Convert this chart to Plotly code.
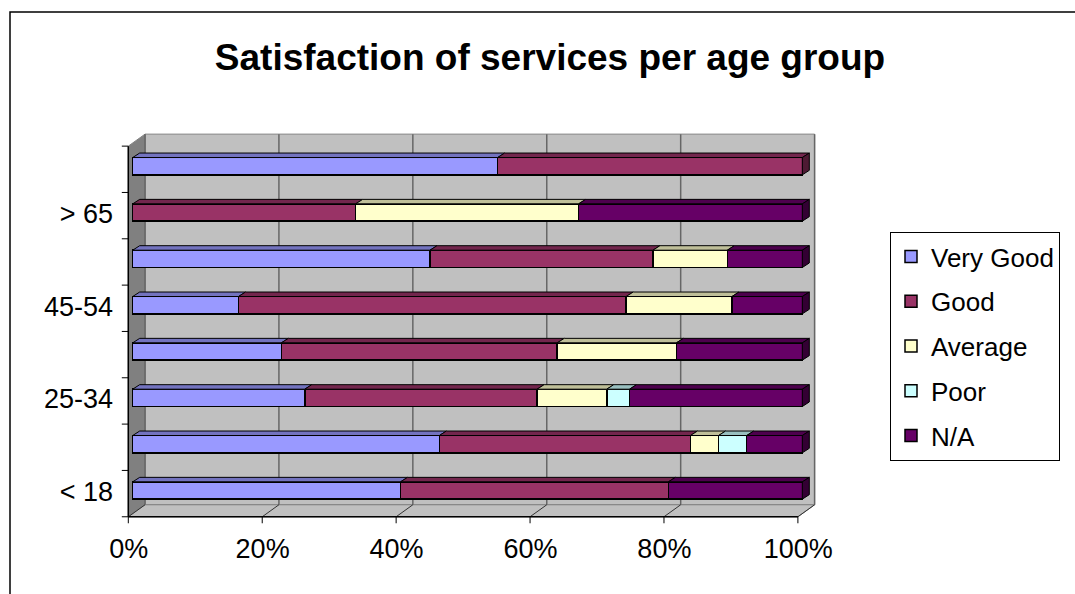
import plotly.graph_objects as go

# ---------------- data ----------------
age_groups = ["< 18", "18-24", "25-34", "35-44", "45-54", "55-64", "> 65", "Unknown"]
ratings = ["Very Good", "Good", "Average", "Poor", "N/A"]
very_good = [40.0, 45.8, 25.7, 22.2, 15.8, 44.4, 0.0, 54.5]
good      = [40.0, 37.5, 34.7, 41.2, 57.9, 33.3, 33.3, 45.5]
average   = [0.0, 4.2, 10.4, 17.8, 15.8, 11.1, 33.3, 0.0]
poor      = [0.0, 4.2, 3.4, 0.0, 0.0, 0.0, 0.0, 0.0]
n_a       = [20.0, 8.3, 25.8, 18.8, 10.5, 11.2, 33.4, 0.0]
x_ticks = [0, 20, 40, 60, 80, 100]

series = [very_good, good, average, poor, n_a]
front_colors = ["#9999FF", "#993366", "#FFFFCC", "#CCFFFF", "#660066"]
top_colors   = ["#7373BF", "#73264D", "#BFBF99", "#99BFBF", "#4D004D"]
end_colors   = ["#4D4D80", "#4D1A33", "#80806A", "#6A8080", "#330033"]

# ---------------- geometry ----------------
W, H = 1075, 594
X0PX, SX = 132.7, 6.696      # pixel of 0 %, pixels per %
Y0PX, SY = 490.5, 46.33      # pixel of first category, pixels per category
X_RANGE = [-2.5, 103.0]
Y_RANGE = [-0.8, 7.8]
x_dom = [(X0PX + X_RANGE[0] * SX) / W, (X0PX + X_RANGE[1] * SX) / W]
y_dom = [(H - (Y0PX - Y_RANGE[0] * SY)) / H, (H - (Y0PX - Y_RANGE[1] * SY)) / H]

FX, FY = -4.4 / SX, -3.1 / SY      # front plane offset from bar front plane
BX, BY = 12.3 / SX, 8.9 / SY       # back plane offset
DX, DY = 7.0 / SX, 4.5 / SY        # bar depth
BAR_W = 17.3 / SY
h = BAR_W / 2
n = len(age_groups)
pos = list(range(n))
lo, hi = -0.5, n - 0.5

fig = go.Figure()

for name, vals, col in zip(ratings, series, front_colors):
    fig.add_trace(go.Bar(
        name=name, orientation="h", y=pos,
        x=[v if v > 0 else None for v in vals],
        width=BAR_W, marker=dict(color=col, line=dict(color="black", width=1.5)),
        legendgroup=name, hoverinfo="skip"))

for k, (vals, tcol) in enumerate(zip(series, top_colors)):
    xs, ys = [], []
    for i in pos:
        a = sum(s[i] for s in series[:k])
        b = a + vals[i]
        if vals[i] <= 0:
            continue
        xs += [a, a + DX, b + DX, b, a, None]
        ys += [i + h, i + h + DY, i + h + DY, i + h, i + h, None]
    fig.add_trace(go.Scatter(x=xs, y=ys, mode="lines", fill="toself", fillcolor=tcol,
                             line=dict(color="black", width=1), showlegend=False,
                             hoverinfo="skip"))

for k, ecol in enumerate(end_colors):
    xs, ys = [], []
    for i in pos:
        last = max(j for j, s in enumerate(series) if s[i] > 0)
        if last != k:
            continue
        tot = sum(s[i] for s in series)
        xs += [tot, tot + DX, tot + DX, tot, tot, None]
        ys += [i - h, i - h + DY, i + h + DY, i + h, i - h, None]
    if xs:
        fig.add_trace(go.Scatter(x=xs, y=ys, mode="lines", fill="toself", fillcolor=ecol,
                                 line=dict(color="black", width=1), showlegend=False,
                                 hoverinfo="skip"))

shapes = []
def poly(pts, fill, line, lw=1, layer="below"):
    p = "M " + " L ".join(f"{x},{y}" for x, y in pts) + " Z"
    shapes.append(dict(type="path", path=p, xref="x", yref="y", fillcolor=fill,
                       line=dict(color=line, width=lw), layer=layer))
def seg(x1, y1, x2, y2, col, lw=1, layer="below"):
    shapes.append(dict(type="line", x0=x1, y0=y1, x1=x2, y1=y2, xref="x", yref="y",
                       line=dict(color=col, width=lw), layer=layer))

xmin, xmax = x_ticks[0], x_ticks[-1]
poly([(xmin + BX, lo + BY), (xmin + BX, hi + BY), (xmax + BX, hi + BY), (xmax + BX, lo + BY)],
     "#C0C0C0", "#808080")
poly([(xmin + FX, lo + FY), (xmin + FX, hi + FY), (xmin + BX, hi + BY), (xmin + BX, lo + BY)],
     "#808080", "#808080")
poly([(xmin + FX, lo + FY), (xmax + FX, lo + FY), (xmax + BX, lo + BY), (xmin + BX, lo + BY)],
     "#C0C0C0", "#808080")
for t in x_ticks:
    seg(t + BX, lo + BY, t + BX, hi + BY, "#666666", 1.5)
    seg(t + FX, lo + FY, t + BX, lo + BY, "#333333", 1)
seg(xmin + FX, lo + FY, xmin + FX, hi + FY, "black", 1.5)
seg(xmin + FX, lo + FY, xmax + FX, lo + FY, "black", 1.5)
for k in range(n + 1):
    seg(xmin + FX - 6.5 / SX, lo + FY + k, xmin + FX, lo + FY + k, "black", 1)
for t in x_ticks:
    seg(t + FX, lo + FY, t + FX, lo + FY - 6.5 / SY, "black", 1)

# outer chart border
shapes.append(dict(type="rect", xref="paper", yref="paper", x0=10 / W, y0=-0.05,
                   x1=1.05, y1=1 - 12 / H, line=dict(color="black", width=1.5),
                   fillcolor="rgba(0,0,0,0)", layer="below"))

FONT = "Liberation Sans, Arial, sans-serif"
fig.update_layout(
    width=W, height=H, margin=dict(l=0, r=0, t=0, b=0, pad=0, autoexpand=False),
    paper_bgcolor="white", plot_bgcolor="white",
    barmode="stack", shapes=shapes,
    font=dict(family=FONT, color="black"),
    title=dict(text="<b>Satisfaction of services per age group</b>",
               x=550 / W, xanchor="center", y=1 - 57 / H, yanchor="middle",
               font=dict(family=FONT, size=37, color="black")),
    xaxis=dict(domain=x_dom, range=X_RANGE, tickvals=x_ticks,
               ticktext=[f"{t}%" for t in x_ticks], showgrid=False, zeroline=False,
               showline=False, ticks="", tickfont=dict(size=27), ticklabelshift=-4,
               ticklabelstandoff=2, automargin=False),
    yaxis=dict(domain=y_dom, range=Y_RANGE, tickvals=pos[::2], ticktext=age_groups[::2],
               showgrid=False, zeroline=False, showline=False, ticks="",
               tickfont=dict(size=27), ticklabelshift=1, ticklabelstandoff=2,
               automargin=False),
    legend=dict(x=890 / W, y=1 - 232 / H, xanchor="left", yanchor="top",
                bgcolor="white", bordercolor="black", borderwidth=1,
                font=dict(size=26, family=FONT), traceorder="grouped",
                tracegroupgap=8),
    showlegend=True,
)

fig.write_html("out.html")
